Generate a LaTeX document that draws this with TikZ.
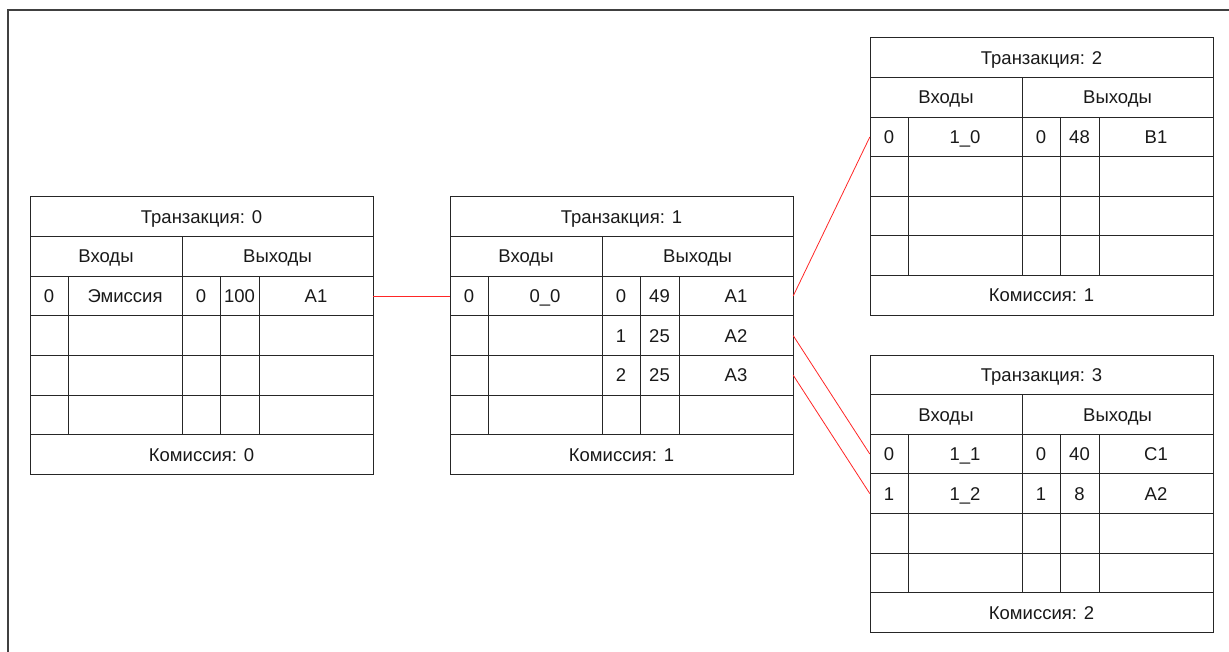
\documentclass[tikz,border=0pt]{standalone}
\usepackage{fontspec}
\setmainfont{Liberation Sans}

\tikzset{
  frame line/.style={line width=1.5pt, draw=black!75},
  grid line/.style={line width=1pt, draw=black!85},
  cell/.style={inner sep=0pt, text height=13.2pt, text depth=0pt,
    text=black!90, font=\fontsize{18.5}{22}\selectfont},
  rowbox/.style={inner sep=0pt, minimum width=343pt, minimum height=39.6pt},
  link/.style={red!85, line width=0.8pt},
}
\def\rh{39.6}

% grid of one transaction: name, number, fee
\newcommand{\txgrid}[3]{%
  \draw[grid line] (0,0) rectangle (343,{7*\rh});
  \foreach \r in {1,...,6} \draw[grid line] (0,{\r*\rh}) -- (343,{\r*\rh});
  \draw[grid line] (152,\rh) -- (152,{6*\rh});
  \foreach \c in {38,190,229} \draw[grid line] (\c,{2*\rh}) -- (\c,{6*\rh});
  \node[cell] (#1-title) at (171.5,{0.5*\rh}) {Транзакция: #2};
  \node[cell] (#1-in) at (76,{1.5*\rh}) {Входы};
  \node[cell] (#1-out) at (247.5,{1.5*\rh}) {Выходы};
  \node[cell] (#1-fee) at (171.5,{6.5*\rh}) {Комиссия: #3};
}

% one filled row: name, row, input no, source, output no, amount, address
\newcommand{\txrow}[7]{%
  \node[rowbox] (#1-r#2) at (171.5,{(#2+1.5)*\rh}) {};
  \node[cell] (#1-r#2-a) at (19,{(#2+1.5)*\rh}) {#3};
  \node[cell] (#1-r#2-b) at (95,{(#2+1.5)*\rh}) {#4};
  \node[cell] (#1-r#2-c) at (171,{(#2+1.5)*\rh}) {#5};
  \node[cell] (#1-r#2-d) at (209.5,{(#2+1.5)*\rh}) {#6};
  \node[cell] (#1-r#2-e) at (286,{(#2+1.5)*\rh}) {#7};
}

\begin{document}
\begin{tikzpicture}[x=1pt, y=-1pt]
    \useasboundingbox (0,0) rectangle (1229,652);
    \draw[frame line] (8,652) -- (8,10) -- (1229,10);

    % transaction 0
    \begin{scope}[shift={(30,197)}]
        \txgrid{t0}{0}{0}
        \txrow{t0}{1}{0}{Эмиссия}{0}{100}{A1}
    \end{scope}

    % transaction 1
    \begin{scope}[shift={(450,197)}]
        \txgrid{t1}{1}{1}
        \txrow{t1}{1}{0}{0\_0}{0}{49}{A1}
        \txrow{t1}{2}{}{}{1}{25}{A2}
        \txrow{t1}{3}{}{}{2}{25}{A3}
    \end{scope}

    % transaction 2
    \begin{scope}[shift={(870,38)}]
        \txgrid{t2}{2}{1}
        \txrow{t2}{1}{0}{1\_0}{0}{48}{B1}
    \end{scope}

    % transaction 3
    \begin{scope}[shift={(870,355)}]
        \txgrid{t3}{3}{2}
        \txrow{t3}{1}{0}{1\_1}{0}{40}{C1}
        \txrow{t3}{2}{1}{1\_2}{1}{8}{A2}
    \end{scope}

    \draw[link] (t0-r1.east) -- (t1-r1.west);
    \draw[link] (t1-r1.east) -- (t2-r1.west);
    \draw[link] (t1-r2.east) -- (t3-r1.west);
    \draw[link] (t1-r3.east) -- (t3-r2.west);
\end{tikzpicture}
\end{document}
